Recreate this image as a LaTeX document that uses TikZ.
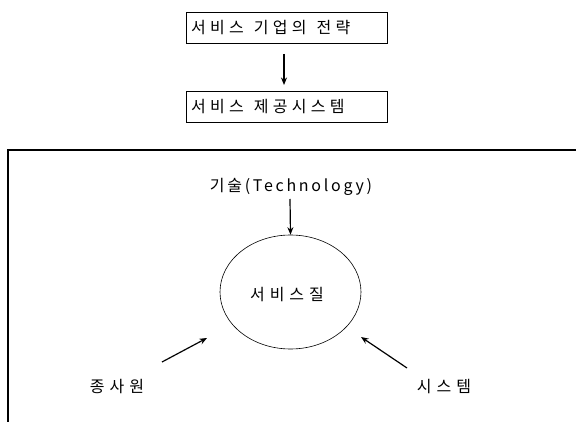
\documentclass[tikz,border=0pt]{standalone}
\usepackage{fontspec}
\setmainfont{Noto Sans CJK KR}
\newfontfamily\krb[LetterSpace=27]{Noto Sans CJK KR}
\newfontfamily\kr[LetterSpace=31]{Noto Sans CJK KR}
\newfontfamily\krt[LetterSpace=17]{Noto Sans CJK KR}
\newcommand\wsp{\hspace{10pt}}
\usetikzlibrary{arrows.meta,shapes.geometric}
\tikzset{
  boxnode/.style={draw,line width=0.9pt,text width=191pt,align=left,inner xsep=5pt,minimum height=31pt,inner ysep=0pt,font=\krb\fontsize{16pt}{18pt}\selectfont},
  lbl/.style={inner sep=0pt,font=\kr\fontsize{16pt}{18pt}\selectfont},
  arr/.style={line width=1.2pt,-{Stealth[length=7.5pt,width=6pt]}},
}
\begin{document}
\begin{tikzpicture}[x=1pt,y=-1pt]
\useasboundingbox (0,0) rectangle (576,422);
\node[boxnode] (b1) at (286.5,28) {서비스\wsp 기업의\wsp 전략};
\node[boxnode] (b2) at (286.5,106.5) {서비스\wsp 제공시스템};
\coordinate (a1) at (284,54);
\coordinate (a2) at (284,85);
\draw[arr] (a1) -- (a2);
\coordinate (fr) at (576,150);
\coordinate (fc) at (8,150);
\coordinate (fl) at (8,422);
\draw[line width=1.1pt] (fr) -- (fc) -- (fl);
\node[lbl,font=\krt\fontsize{16pt}{18pt}\selectfont] (tech) at (291,187) {기술(Technology)};
\node[draw,ellipse,line width=0.6pt,minimum width=141pt,minimum height=114pt,inner sep=0pt] (ell) at (290.5,292) {};
\node[lbl] (q) at (287,295) {서비스질};
\coordinate (t1) at (290,199);
\draw[arr] (t1) -- (ell.north);
\node[lbl] (emp) at (117,387) {종사원};
\node[lbl] (sys) at (444,387) {시스템};
\coordinate (e1) at (162,362);
\coordinate (e2) at (207,338);
\coordinate (s1) at (407,368);
\coordinate (s2) at (361,337);
\draw[arr] (e1) -- (e2);
\draw[arr] (s1) -- (s2);
\end{tikzpicture}
\end{document}
